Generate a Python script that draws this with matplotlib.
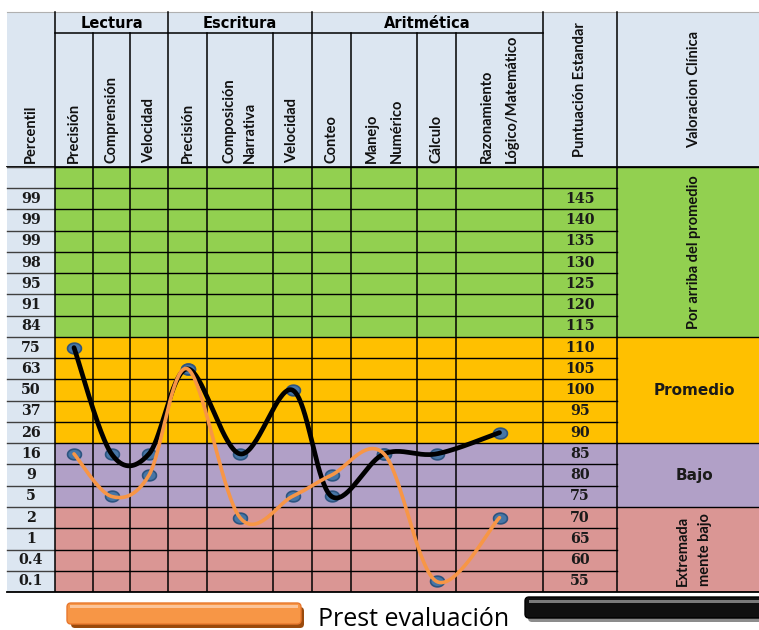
import numpy as np
import matplotlib.pyplot as plt
from matplotlib.patches import Rectangle, FancyBboxPatch

# --- data -----------------------------------------------------------------
groups = ['Lectura', 'Escritura', 'Aritmética']
group_cols = [(0, 3), (3, 6), (6, 10)]
subtests = ['Precisión', 'Comprensión', 'Velocidad', 'Precisión',
            'Composición\nNarrativa', 'Velocidad', 'Conteo',
            'Manejo\nNumérico', 'Cálculo', 'Razonamiento\nLógico/Matemático']
percentiles = ['', '99', '99', '99', '98', '95', '91', '84', '75', '63', '50',
               '37', '26', '16', '9', '5', '2', '1', '0.4', '0.1']
std_scores = [150, 145, 140, 135, 130, 125, 120, 115, 110, 105, 100,
              95, 90, 85, 80, 75, 70, 65, 60, 55]
post_eval = [110, 85, 85, 105, 85, 100, 75, 85, 85, 90]   # black line
prest_eval = [85, 75, 80, 105, 70, 75, 80, 85, 55, 70]    # orange line
bands = ['Por arriba del promedio', 'Promedio', 'Bajo', 'Extremada\nmente bajo']
band_low = [112.5, 87.5, 72.5, 52.5]
band_high = [152.5, 112.5, 87.5, 72.5]
band_colors = ['#92D050', '#FFC000', '#B1A0C7', '#DA9694']

# --- layout (pixels) ------------------------------------------------------
W, H = 759, 630
col_edges = [55, 93, 130, 168, 207, 273, 312, 351, 417, 456, 543]
score_x0, score_x1 = 543, 617
pct_x0 = 7
head_top, group_bot, grid_top, grid_bot = 12, 33, 167, 592
col_centers = [(a + b) / 2 for a, b in zip(col_edges[:-1], col_edges[1:])]
header_bg = '#DCE6F1'

fig = plt.figure(figsize=(W / 100, H / 100), dpi=100)
ax_head = fig.add_axes([0, 1 - grid_top / H, 1, grid_top / H])
ax = fig.add_axes([0, 1 - grid_bot / H, 1, (grid_bot - grid_top) / H])
ax_foot = fig.add_axes([0, 0, 1, 1 - grid_bot / H])
for a in (ax_head, ax, ax_foot):
    a.set_axis_off()
ax_head.set_xlim(0, W)
ax_head.set_ylim(grid_top, 0)
ax_foot.set_xlim(0, W)
ax_foot.set_ylim(H, grid_bot)
ax.set_xlim(0, W)
ax.set_ylim(52.5, 152.5)

# --- header ---------------------------------------------------------------
ax_head.add_patch(Rectangle((pct_x0, head_top), W - pct_x0, grid_top - head_top,
                            facecolor=header_bg, edgecolor='none'))
ax_head.plot([pct_x0, W], [head_top, head_top], color='#B0B0B0', lw=0.8)
ax_head.plot([col_edges[0], col_edges[-1]], [group_bot, group_bot], color='black', lw=1.1)
for x in col_edges + [score_x1]:
    top = head_top if x in (55, 168, 312, 543, 617) else group_bot
    ax_head.plot([x, x], [top, grid_top], color='black', lw=1.1)
ax_head.plot([pct_x0, W], [grid_top, grid_top], color='black', lw=1.3)

hfont = dict(family=['Lato', 'DejaVu Sans'], weight='bold', color='#111111')
for name, (c0, c1) in zip(groups, group_cols):
    ax_head.text((col_edges[c0] + col_edges[c1]) / 2, (head_top + group_bot) / 2 + 1, name,
                 ha='center', va='center', fontsize=10.5, weight='bold', family='DejaVu Sans')
for name, xc in zip(subtests, col_centers):
    ls = 2.0 if name.startswith(('Manejo', 'Razon')) else 1.6
    ax_head.text(xc, grid_top - 4, name, rotation=90, ha='center', va='bottom',
                 multialignment='left', linespacing=ls, fontsize=10.5, **hfont)
ax_head.text((pct_x0 + col_edges[0]) / 2, grid_top - 4, 'Percentil', rotation=90,
             ha='center', va='bottom', fontsize=10.5, **hfont)
ax_head.text((score_x0 + score_x1) / 2, (head_top + grid_top) / 2, 'Puntuación Estandar',
             rotation=90, ha='center', va='center', fontsize=10.5, **hfont)
ax_head.text((score_x1 + W) / 2 + 6, (head_top + grid_top) / 2, 'Valoracion Clínica',
             rotation=90, ha='center', va='center', fontsize=10.5, **hfont)

# --- grid body ------------------------------------------------------------
ax.add_patch(Rectangle((pct_x0, 52.5), col_edges[0] - pct_x0, 100,
                       facecolor=header_bg, edgecolor='none'))
for lo, hi, c in zip(band_low, band_high, band_colors):
    ax.axhspan(lo, hi, xmin=col_edges[0] / W, xmax=1, color=c, lw=0)

row_edges = np.arange(52.5, 153, 5)
for y in row_edges:
    ax.plot([pct_x0, col_edges[0]], [y, y], color='#404040', lw=1.0)
    ax.plot([col_edges[0], score_x1], [y, y], color='black', lw=1.0)
for y in band_low + [152.5]:
    ax.plot([score_x1, W], [y, y], color='black', lw=1.0)
ax.plot([pct_x0, W], [52.5, 52.5], color='black', lw=1.3, clip_on=False)
for x in col_edges + [score_x1]:
    ax.plot([x, x], [52.5, 152.5], color='black', lw=1.1)

nfont = dict(family='DejaVu Serif', weight='bold', fontsize=10.3, color='#1a1a1a')
for p, s in zip(percentiles, std_scores):
    ax.text((pct_x0 + col_edges[0]) / 2, s, p, ha='center', va='center', **nfont)
    if s < 150:
        ax.text((score_x0 + score_x1) / 2, s, str(s), ha='center', va='center', **nfont)

vx = (score_x1 + W) / 2 + 6
for name, lo, hi in zip(bands, band_low, band_high):
    if '\n' in name or len(name) > 15:
        ax.text(vx, (lo + hi) / 2, name, rotation=90, ha='center', va='center',
                multialignment='left', linespacing=1.7, fontsize=10.5, **hfont)
    else:
        ax.text(vx, (lo + hi) / 2, name, ha='center', va='center', fontsize=11,
                weight='bold', family='DejaVu Sans', color='#1a1a1a')


# --- smoothed lines (Excel style Catmull-Rom) -------------------------------
def smooth(xs, ys, n=40):
    P = np.column_stack([xs, ys]).astype(float)
    P = np.vstack([P[0], P, P[-1]])
    t = np.linspace(0, 1, n)[:, None]
    segs = []
    for i in range(1, len(P) - 2):
        p0, p1, p2, p3 = P[i - 1], P[i], P[i + 1], P[i + 2]
        segs.append(0.5 * (2 * p1 + (p2 - p0) * t
                           + (2 * p0 - 5 * p1 + 4 * p2 - p3) * t ** 2
                           + (-p0 + 3 * p1 - 3 * p2 + p3) * t ** 3))
    return np.vstack(segs)


th = np.linspace(0, 2 * np.pi, 40)
ellipse = np.column_stack([1.3 * np.cos(th), np.sin(th)])
for series in (post_eval, prest_eval):
    ax.plot(col_centers, series, ls='none', marker=ellipse, ms=10,
            mfc='#4776A6', mec='#2C5480', mew=1.2, zorder=4)

blk = smooth(col_centers, post_eval)
org = smooth(col_centers, prest_eval)
ax.plot(blk[:, 0], blk[:, 1], color='black', lw=3.4, zorder=5, solid_capstyle='round')
ax.plot(org[:, 0], org[:, 1], color='#F79646', lw=2.6, zorder=6, solid_capstyle='round')

# --- legend at the bottom ---------------------------------------------------
ax_foot.add_patch(FancyBboxPatch((71, 607), 233, 21, boxstyle='round,pad=0,rounding_size=4',
                                 facecolor='#9A4A0C', edgecolor='none'))
ax_foot.add_patch(FancyBboxPatch((67, 603), 234, 21, boxstyle='round,pad=0,rounding_size=4',
                                 facecolor='#F79646', edgecolor='#E8782E', lw=1))
ax_foot.add_patch(Rectangle((70, 605), 228, 3, facecolor='#FBC49A', edgecolor='none'))
ax_foot.text(318, 619, 'Prest evaluación', ha='left', va='center', fontsize=18,
             family='Open Sans', color='black')
ax_foot.add_patch(FancyBboxPatch((528, 601), 240, 21, boxstyle='round,pad=0,rounding_size=4',
                                 facecolor='#8C8C8C', edgecolor='none'))
ax_foot.add_patch(FancyBboxPatch((525, 597), 240, 21, boxstyle='round,pad=0,rounding_size=4',
                                 facecolor='#101010', edgecolor='black', lw=1))
ax_foot.add_patch(Rectangle((529, 600), 236, 3, facecolor='#7A7A7A', edgecolor='none'))

fig.savefig('out.png', dpi=100)
